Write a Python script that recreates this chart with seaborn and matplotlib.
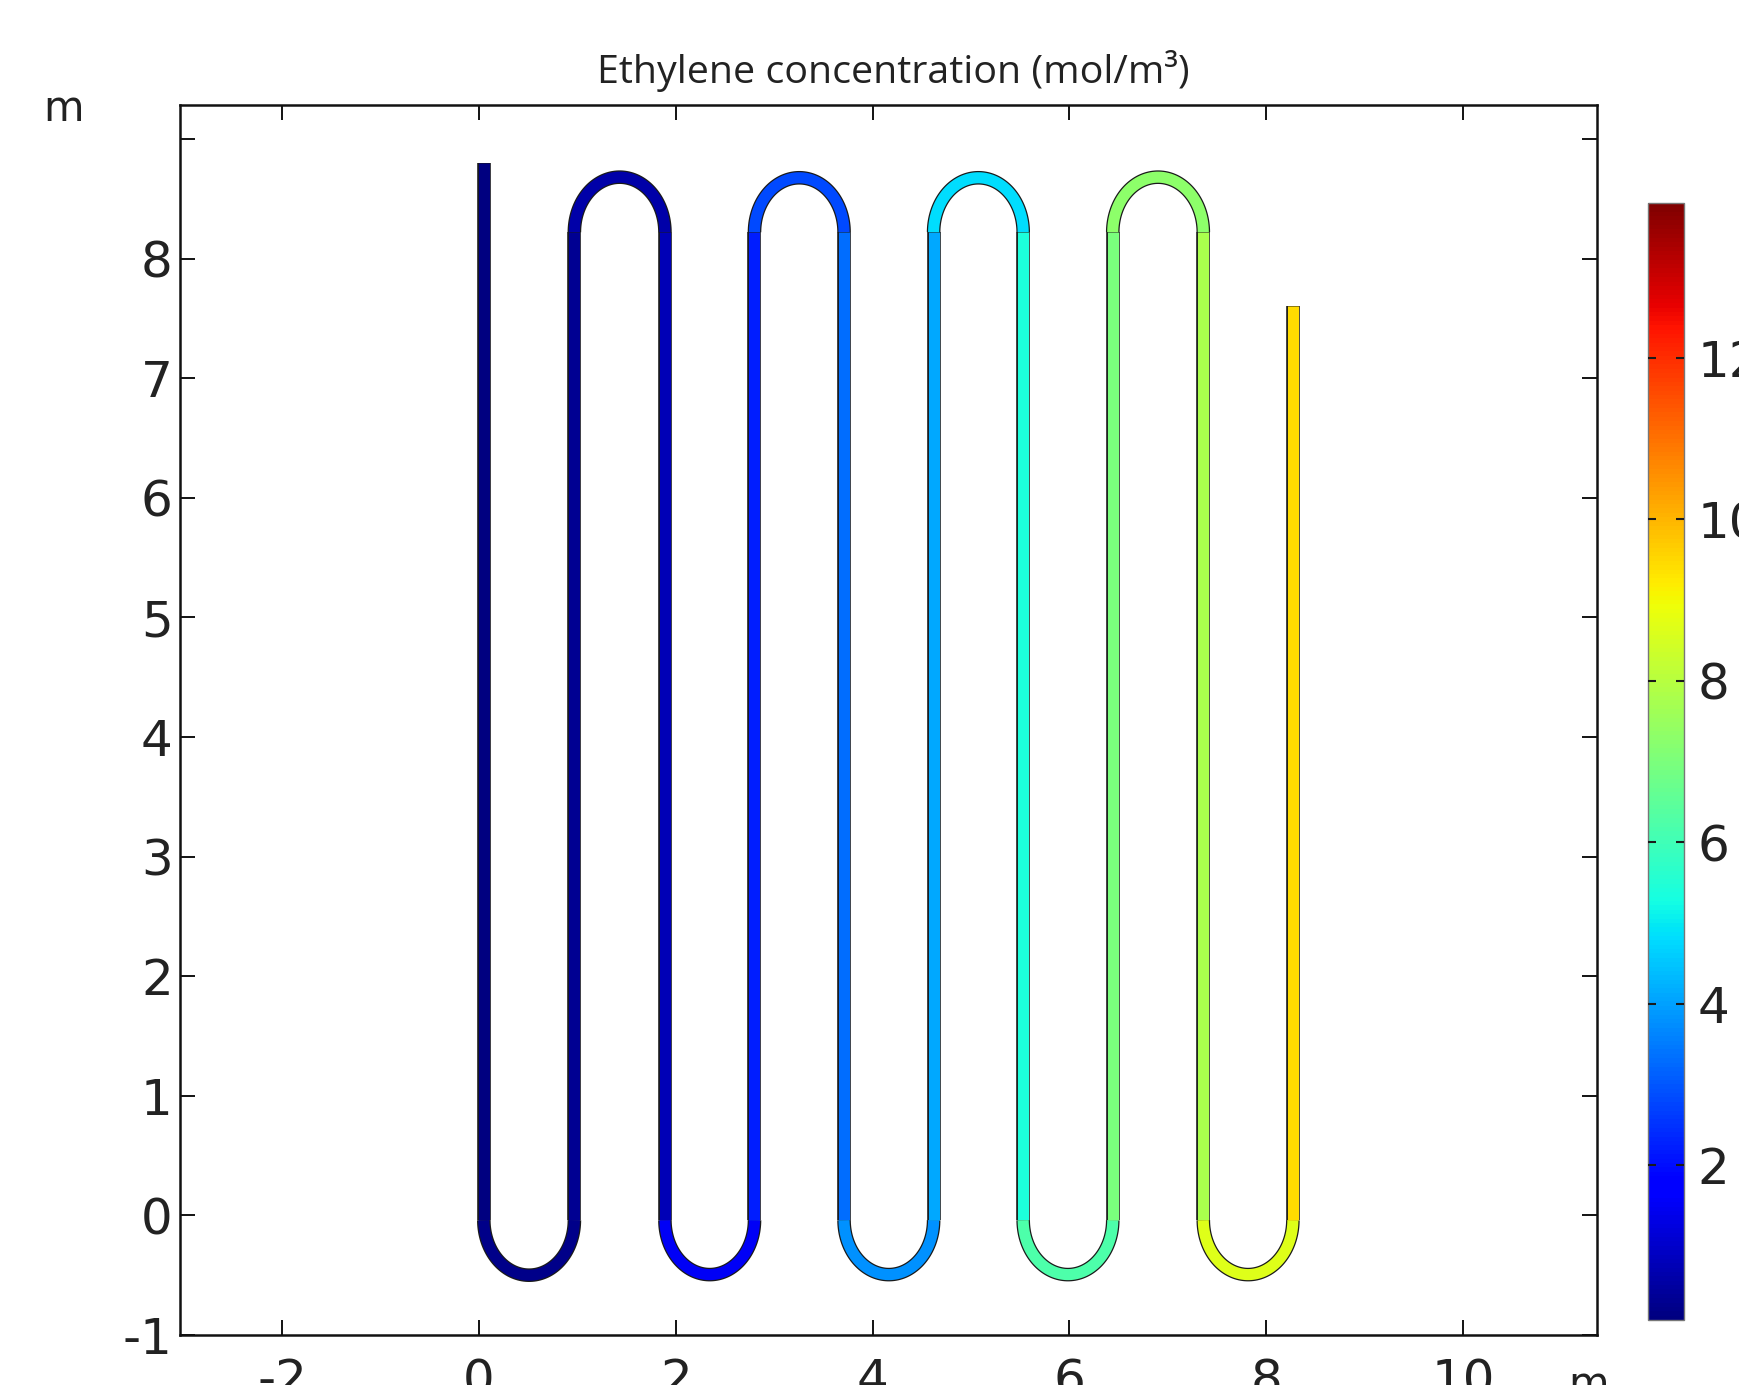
import numpy as np
import pandas as pd
import matplotlib
matplotlib.use("Agg")
import matplotlib.pyplot as plt
import matplotlib.patheffects as pe
from matplotlib.colors import Normalize
import seaborn as sns

# ---- data ----
leg_x = [0.05, 0.97, 1.89, 2.80, 3.71, 4.62, 5.53, 6.44, 7.36, 8.27]
leg_top = [8.80, 8.22, 8.22, 8.22, 8.22, 8.22, 8.22, 8.22, 8.22, 7.60]
leg_bottom = [-0.04, -0.04, -0.04, -0.04, -0.04, -0.04, -0.04, -0.04, -0.04, -0.04]
leg_conc = [0.10, 0.30, 0.75, 2.20, 3.30, 4.10, 5.40, 6.95, 7.80, 9.45]
bend_side = ["bottom", "top", "bottom", "top", "bottom", "top", "bottom", "top", "bottom"]
bend_y = [-0.04, 8.22, -0.04, 8.22, -0.04, 8.22, -0.04, 8.22, -0.04]
bend_conc = [0.20, 0.60, 1.50, 2.80, 3.80, 4.80, 6.20, 7.30, 8.65]
cbar_range = [0.08, 13.92]
cbar_ticks = [2, 4, 6, 8, 10, 12]
x_ticks = [-2, 0, 2, 4, 6, 8, 10]
y_ticks = [-1, 0, 1, 2, 3, 4, 5, 6, 7, 8, 9]
y_ticklabels = ["-1", "0", "1", "2", "3", "4", "5", "6", "7", "8", ""]
x_limits = [-3.04, 11.36]
y_limits = [-1.0, 9.28]
title = "Ethylene concentration (mol/m\u00b3)"

sns.set_theme(style="ticks")
plt.rcParams["font.family"] = ["DejaVu Sans"]
plt.rcParams["axes.unicode_minus"] = False

# ---- build tube geometry table ----
rows = []
seg = 0
for x, yt, yb, c in zip(leg_x, leg_top, leg_bottom, leg_conc):
    rows.append((seg, x, yb, c))
    rows.append((seg, x, yt, c))
    seg += 1
for i, (side, cy, c) in enumerate(zip(bend_side, bend_y, bend_conc)):
    xa, xb = leg_x[i], leg_x[i + 1]
    cx = (xa + xb) / 2.0
    r = (xb - xa) / 2.0
    if side == "bottom":
        th = np.linspace(np.pi, 2 * np.pi, 80)
    else:
        th = np.linspace(0, np.pi, 80)
    for t in th:
        rows.append((seg, cx + r * np.cos(t), cy + r * np.sin(t), c))
    seg += 1
df = pd.DataFrame(rows, columns=["seg", "x", "y", "conc"])

W, H = 1739, 1385
fig = plt.figure(figsize=(W / 100, H / 100), dpi=100)
ax = fig.add_axes([179.7 / W, 1 - 1335 / H, (1597 - 179.7) / W, (1335 - 105.4) / H])

jet = matplotlib.colormaps["jet"]
norm = Normalize(vmin=cbar_range[0], vmax=cbar_range[1])
sns.lineplot(
    data=df, x="x", y="y", hue="conc", units="seg", estimator=None, sort=False,
    palette=jet, hue_norm=norm, linewidth=8.0, legend=False, ax=ax,
    solid_capstyle="butt",
    path_effects=[pe.Stroke(linewidth=9.8, foreground="#1a1a1a"), pe.Normal()],
)

ax.set_xlim(*x_limits)
ax.set_ylim(*y_limits)
ax.set_xticks(x_ticks)
ax.set_yticks(y_ticks)
ax.set_yticklabels(y_ticklabels)
ax.set_xlabel("")
ax.set_ylabel("")
ax.tick_params(direction="in", length=11, width=1.3, color="black",
               top=True, right=True, labelsize=36, labelcolor="#222222")
ax.tick_params(axis="x", pad=16)
ax.tick_params(axis="y", pad=5)
for s in ax.spines.values():
    s.set_visible(True)
    s.set_linewidth(1.8)
    s.set_color("#111111")

fig.text(893 / W, 1 - 83 / H, title, ha="center", va="baseline",
         fontsize=28.4, family=["Open Sans", "DejaVu Sans"], color="#222222")
fig.text(63 / W, 1 - 109 / H, "m", ha="center", va="center", fontsize=30, color="#222222")
fig.text(1589 / W, 1 - 1364 / H, "m", ha="center", va="top", fontsize=30, color="#222222")

# ---- colour bar ----
cax = fig.add_axes([1648 / W, 1 - 1320 / H, 35.6 / W, 1117 / H])
sm = plt.cm.ScalarMappable(norm=norm, cmap=jet)
cb = fig.colorbar(sm, cax=cax, ticks=cbar_ticks)
cb.outline.set_linewidth(1.0)
cb.outline.set_edgecolor("#777777")
cax.set_axisbelow(False)
cax.yaxis.set_ticks_position("both")
cax.tick_params(axis="y", direction="in", length=6, width=1.5, color="#1a1a1a",
                left=True, right=True, labelleft=False, labelright=True,
                labelsize=36, pad=10, labelcolor="#222222")

fig.savefig("out.png", dpi=100, facecolor="white")
